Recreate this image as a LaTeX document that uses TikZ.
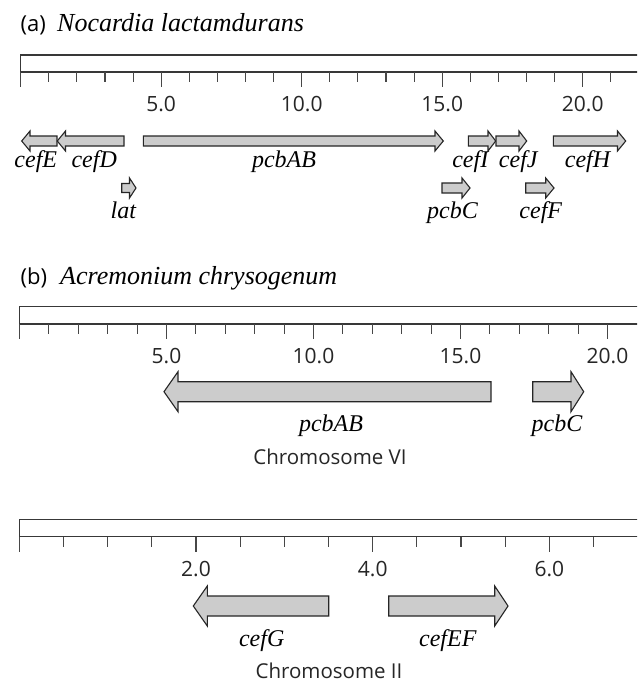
\documentclass[tikz,border=0pt]{standalone}
\usepackage{fontspec}
\setmainfont{Liberation Serif}
\newfontfamily\sansf{Open Sans}
\newcommand\rulerbar[8]{% #1 top, #2 bottom, #3 origin x, #4 spacing, #5 last index, #6 minor, #7 major, #8 major every
  \draw[barline] (#3,#1) rectangle (660,#2);
  \foreach \i in {0,...,#5}{%
    \pgfmathsetmacro\tx{#3+\i*#4}%
    \pgfmathtruncatemacro\m{mod(\i,#8)}%
    \ifnum\m=0
      \draw[tickline] (\tx,#2) -- ++(0,#7);
    \else
      \draw[tickline] (\tx,#2) -- ++(0,#6);
    \fi
  }%
}
\newcommand\genearrow[7]{% #1 name, #2 tail, #3 head base, #4 tip, #5 y, #6 shaft half, #7 head half
  \draw[genebox] ({#2},{#5-#6}) -- ({#3},{#5-#6}) -- ({#3},{#5-#7}) -- ({#4},{#5})
    -- ({#3},{#5+#7}) -- ({#3},{#5+#6}) -- ({#2},{#5+#6}) -- cycle;
  \coordinate (#1) at ({#4},{#5});
}
\begin{document}
\begin{tikzpicture}[x=1pt,y=-1pt,
  barline/.style={draw=black!78, line width=1.3pt, fill=white},
  tickline/.style={draw=black!72, line width=1.1pt},
  genebox/.style={draw=black!85, line width=1.1pt, fill=black!20, line join=miter},
  genelabel/.style={font=\fontsize{24}{28}\selectfont\itshape, anchor=base, inner sep=0pt},
  numlabel/.style={font=\sansf\fontsize{21}{24}\selectfont, anchor=base, inner sep=0pt, text=black!85},
  chromlabel/.style={font=\sansf\fontsize{20.5}{24}\selectfont, anchor=base, inner sep=0pt, text=black!85},
  paneltag/.style={font=\sansf\fontsize{22}{26}\selectfont, anchor=base west, inner sep=0pt},
  titlelabel/.style={font=\fontsize{26}{30}\selectfont\itshape, anchor=base west, inner sep=0pt}]
\useasboundingbox (0,0) rectangle (637,682);
\clip (0,0) rectangle (637,682);
\fill[white] (0,0) rectangle (637,682);

% ---------- panel (a) ----------
\node[paneltag] (tagA) at (20.5,31.7) {(a)};
\node[titlelabel] (titleA) at (57,31.7) {Nocardia lactamdurans};
\rulerbar{55}{72}{20.7}{28.1}{21}{10}{15}{5}
\node[numlabel] (a5)  at (161.2,111.7) {5.0};
\node[numlabel] (a10) at (301.7,111.7) {10.0};
\node[numlabel] (a15) at (442.2,111.7) {15.0};
\node[numlabel] (a20) at (582.7,111.7) {20.0};

\genearrow{gcefE}{57}{30}{21.7}{141}{5}{10}
\genearrow{gcefD}{124}{65.5}{57.3}{141}{5}{10}
\genearrow{gpcbABa}{143.3}{435}{443.3}{141}{5}{10}
\genearrow{gcefI}{468.3}{488}{495.7}{141}{5}{10}
\genearrow{gcefJ}{496}{519}{526.7}{141}{5}{10}
\genearrow{gcefH}{553.3}{617.5}{625.7}{141}{5}{10}
\genearrow{glat}{121.7}{129.5}{136}{188}{4.5}{10}
\genearrow{gpcbCa}{442}{462}{470}{188}{5}{10}
\genearrow{gcefF}{525.7}{545.7}{554}{188}{5}{10}

\node[genelabel] (lcefE) at (35.8,167.5) {cefE};
\node[genelabel] (lcefD) at (94.2,167.5) {cefD};
\node[genelabel] (lpcbABa) at (284,167.5) {pcbAB};
\node[genelabel] (lcefI) at (470.3,167.5) {cefI};
\node[genelabel] (lcefJ) at (518.3,167.5) {cefJ};
\node[genelabel] (lcefH) at (587.5,167.5) {cefH};
\node[genelabel] (llat) at (123.3,218.5) {lat};
\node[genelabel] (lpcbCa) at (452.5,218.5) {pcbC};
\node[genelabel] (lcefF) at (540.8,218.5) {cefF};

% ---------- panel (b) ----------
\node[paneltag] (tagB) at (20.5,284.5) {(b)};
\node[titlelabel] (titleB) at (60,284.5) {Acremonium chrysogenum};
\rulerbar{306.7}{324}{19.5}{29.4}{20}{10}{15}{5}
\node[numlabel] (b5)  at (166.5,363.3) {5.0};
\node[numlabel] (b10) at (313.5,363.3) {10.0};
\node[numlabel] (b15) at (460.5,363.3) {15.0};
\node[numlabel] (b20) at (607.5,363.3) {20.0};

\genearrow{gpcbABb}{491}{178}{164}{391.7}{10}{20}
\genearrow{gpcbCb}{532.7}{571}{583.7}{391.7}{10}{20}
\node[genelabel] (lpcbABb) at (331,431.7) {pcbAB};
\node[genelabel] (lpcbCb) at (557,431.7) {pcbC};
\node[chromlabel] (chrVI) at (330,464) {Chromosome VI};

% ---------- chromosome II ----------
\rulerbar{519.3}{536.7}{19.3}{44.17}{13}{10}{15}{4}
\node[numlabel] (c2) at (196,576) {2.0};
\node[numlabel] (c4) at (372.7,576) {4.0};
\node[numlabel] (c6) at (549.3,576) {6.0};

\genearrow{gcefG}{328.7}{207.3}{193.3}{606}{10}{20}
\genearrow{gcefEF}{388.7}{494.7}{508}{606}{10}{20}
\node[genelabel] (lcefG) at (261.7,646.7) {cefG};
\node[genelabel] (lcefEF) at (447.8,646.7) {cefEF};
\node[chromlabel] (chrII) at (329,678.3) {Chromosome II};
\end{tikzpicture}
\end{document}
